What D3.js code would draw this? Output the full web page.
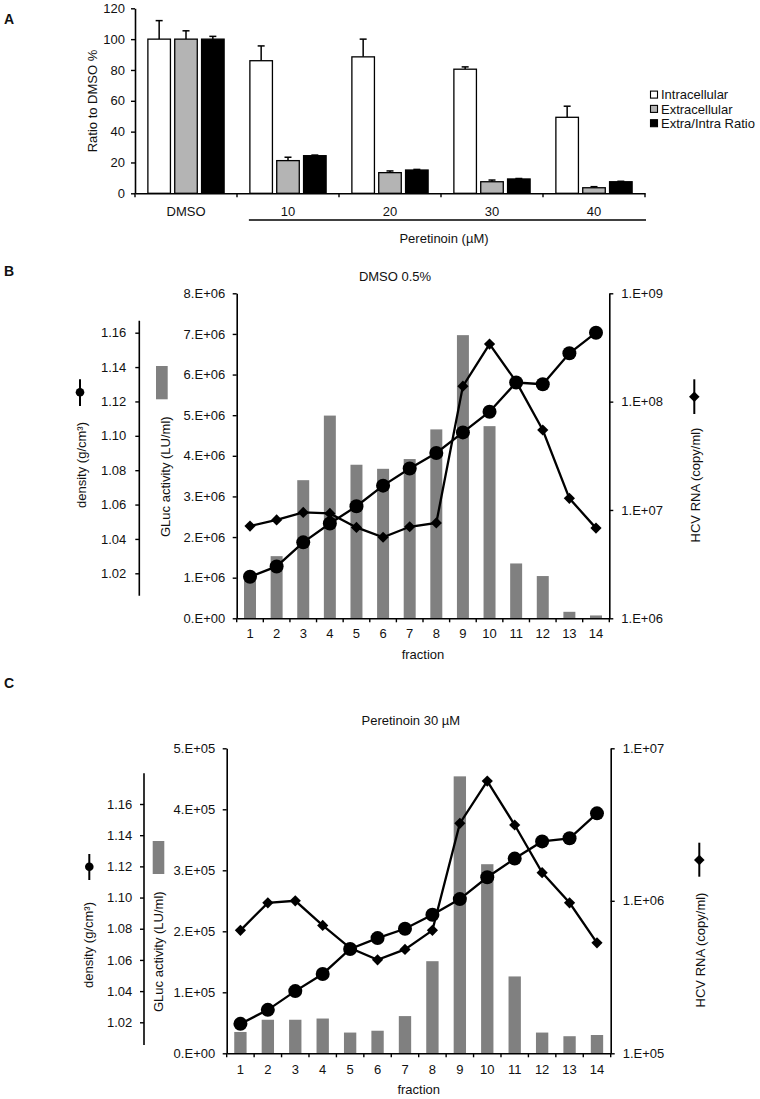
<!DOCTYPE html>
<html><head><meta charset="utf-8">
<script src="https://cdn.jsdelivr.net/npm/d3@7"></script>
<style>
body{margin:0;background:#fff}
svg{display:block}
text{font-family:"Liberation Sans",Arial,Helvetica,sans-serif;fill:#111}
</style>
</head><body>
<svg id="c" width="760" height="1099"></svg>
<script>
// ---------- DATA ----------
// Panel A
const groupsA = ["DMSO","10","20","30","40"];
const seriesA = ["Intracellular","Extracellular","Extra/Intra Ratio"];
const intraA = [100, 86, 88.5, 80.5, 49.3];
const intraErrA = [12, 9.6, 11.5, 1.5, 7.2];
const extraA = [100, 21.2, 13.4, 7.5, 3.6];
const extraErrA = [5.4, 2.2, 1.1, 1.1, 0.7];
const ratioA = [100, 24.4, 15.1, 9.3, 7.5];
const ratioErrA = [1.8, 0.4, 0.4, 0.3, 0.3];
const yTicksA = [0, 20, 40, 60, 80, 100, 120];

// Panels B / C
const fractions = [1,2,3,4,5,6,7,8,9,10,11,12,13,14];

const glucB = [1.0e6, 1.53e6, 3.40e6, 4.99e6, 3.78e6, 3.68e6, 3.92e6, 4.65e6, 6.97e6, 4.73e6, 1.35e6, 1.04e6, 0.16e6, 0.07e6];
const rnaB = [7.1e6, 8.1e6, 9.5e6, 9.3e6, 6.9e6, 5.6e6, 7.0e6, 7.6e6, 1.39e8, 3.40e8, 1.53e8, 5.47e7, 1.28e7, 6.8e6];
const densB = [1.018, 1.024, 1.038, 1.049, 1.059, 1.071, 1.081, 1.090, 1.102, 1.114, 1.131, 1.130, 1.148, 1.160];
const glucTicksB = [0,1e6,2e6,3e6,4e6,5e6,6e6,7e6,8e6];
const glucTickLabelsB = ["0.E+00","1.E+06","2.E+06","3.E+06","4.E+06","5.E+06","6.E+06","7.E+06","8.E+06"];
const rnaTicksB = [1e6,1e7,1e8,1e9];
const rnaTickLabelsB = ["1.E+06","1.E+07","1.E+08","1.E+09"];

const glucC = [3.5e4, 5.5e4, 5.5e4, 5.7e4, 3.4e4, 3.7e4, 6.1e4, 1.51e5, 4.54e5, 3.1e5, 1.26e5, 3.4e4, 2.8e4, 3.0e4];
const rnaC = [6.4e5, 9.7e5, 1.0e6, 6.9e5, 4.9e5, 4.1e5, 4.8e5, 6.4e5, 3.22e6, 6.1e6, 3.14e6, 1.53e6, 9.7e5, 5.3e5];
const densC = [1.019, 1.028, 1.040, 1.051, 1.067, 1.074, 1.080, 1.089, 1.099, 1.113, 1.125, 1.136, 1.138, 1.154];
const glucTicksC = [0,1e5,2e5,3e5,4e5,5e5];
const glucTickLabelsC = ["0.E+00","1.E+05","2.E+05","3.E+05","4.E+05","5.E+05"];
const rnaTicksC = [1e5,1e6,1e7];
const rnaTickLabelsC = ["1.E+05","1.E+06","1.E+07"];

const densTicks = [1.02,1.04,1.06,1.08,1.10,1.12,1.14,1.16];
const densTickLabels = ["1.02","1.04","1.06","1.08","1.10","1.12","1.14","1.16"];

// ---------- DRAW ----------
const svg = d3.select("#c");
const FS = 13;

function styleAxis(g){
  g.selectAll("path.domain").attr("stroke","#000").attr("stroke-width",1.6);
  g.selectAll(".tick line").attr("stroke","#000").attr("stroke-width",1.4);
  g.selectAll(".tick text").style("font-size",FS+"px").style("font-family",'"Liberation Sans",Arial,sans-serif').attr("fill","#111");
}
function vlabel(x, y, txt){
  svg.append("text").attr("transform",`translate(${x},${y}) rotate(-90)`)
    .attr("text-anchor","middle").attr("dy","0.35em").style("font-size",FS+"px").text(txt);
}
function panelLabel(x,y,t){
  svg.append("text").attr("x",x).attr("y",y).style("font-size","14px").style("font-weight","bold").text(t);
}

// ===== Panel A =====
panelLabel(4, 24, "A");
const xA = d3.scaleBand().domain(groupsA).range([135, 645]);
const xAin = d3.scaleBand().domain(seriesA).range([0, xA.bandwidth()]).paddingInner(0.16).paddingOuter(0.48);
const yA = d3.scaleLinear().domain([0,120]).range([193.3, 8.3]);
const fillA = ["#ffffff","#b4b4b4","#000000"];
const valsA = [intraA, extraA, ratioA];
const errsA = [intraErrA, extraErrA, ratioErrA];
const rowsA = [];
seriesA.forEach((s,si)=>groupsA.forEach((g,gi)=>rowsA.push({s,si,g,v:valsA[si][gi],e:errsA[si][gi]})));

const gA = svg.append("g");
gA.selectAll("line.err").data(rowsA).join("line")
  .attr("x1",d=>xA(d.g)+xAin(d.s)+xAin.bandwidth()/2).attr("x2",d=>xA(d.g)+xAin(d.s)+xAin.bandwidth()/2)
  .attr("y1",d=>yA(d.v)).attr("y2",d=>yA(d.v+d.e)).attr("stroke","#000").attr("stroke-width",1.5);
gA.selectAll("line.cap").data(rowsA).join("line")
  .attr("x1",d=>xA(d.g)+xAin(d.s)+xAin.bandwidth()/2-3.5).attr("x2",d=>xA(d.g)+xAin(d.s)+xAin.bandwidth()/2+3.5)
  .attr("y1",d=>yA(d.v+d.e)).attr("y2",d=>yA(d.v+d.e)).attr("stroke","#000").attr("stroke-width",1.5);
gA.selectAll("rect.bar").data(rowsA).join("rect")
  .attr("x",d=>xA(d.g)+xAin(d.s)).attr("width",xAin.bandwidth())
  .attr("y",d=>yA(d.v)).attr("height",d=>yA(0)-yA(d.v))
  .attr("fill",d=>fillA[d.si]).attr("stroke","#000").attr("stroke-width",1.3);

const yAxA = svg.append("g").attr("transform","translate(135,0)")
  .call(d3.axisLeft(yA).tickValues(yTicksA).tickSize(4).tickPadding(6).tickSizeOuter(0));
styleAxis(yAxA);
const xAxA = svg.append("g").attr("transform",`translate(0,${yA(0)})`)
  .call(d3.axisBottom(xA).tickSize(0).tickPadding(13).tickSizeOuter(0));
styleAxis(xAxA);
const boundsA = groupsA.map(g=>xA(g)).concat([xA.range()[1]]);
svg.append("g").selectAll("line").data(boundsA).join("line")
  .attr("x1",d=>d).attr("x2",d=>d).attr("y1",yA(0)).attr("y2",yA(0)+4).attr("stroke","#000").attr("stroke-width",1.4);
vlabel(92, 101, "Ratio to DMSO %");
svg.append("line").attr("x1",xA("10")+xAin(seriesA[0])-1).attr("x2",xA.range()[1]+1)
  .attr("y1",220).attr("y2",220).attr("stroke","#000").attr("stroke-width",1.4);
svg.append("text").attr("x",444).attr("y",242.5).attr("text-anchor","middle").style("font-size",FS+"px").text("Peretinoin (µM)");
const legA = svg.append("g");
seriesA.forEach((s,i)=>{
  const cy = 94.7 + i*14.3;
  legA.append("rect").attr("x",650.5).attr("y",cy-3.6).attr("width",7).attr("height",7)
    .attr("fill",fillA[i]).attr("stroke","#000").attr("stroke-width",1.1);
  legA.append("text").attr("x",661).attr("y",cy+4.6).style("font-size",FS+"px").text(s);
});

// ===== Panels B, C =====
function diamondPath(r){ return `M0,${-r}L${r},0L0,${r}L${-r},0Z`; }

function fractionPanel(o){
  panelLabel(4, o.labelY, o.label);
  svg.append("text").attr("x",o.titleX).attr("y",o.titleY).attr("text-anchor","middle").style("font-size",FS+"px").text(o.title);
  const x = d3.scaleBand().domain(fractions).range([o.x0, o.x1]);
  const yG = d3.scaleLinear().domain([0, o.glucMax]).range([o.yBot, o.yTop]);
  const yR = d3.scaleLog().domain(o.rnaDomain).range([o.yBot, o.yTop]);
  const yD = d3.scaleLinear().domain([1.02,1.16]).range([o.d102, o.d116]);
  const bw = x.bandwidth()*0.45;

  svg.append("g").selectAll("rect").data(fractions).join("rect")
    .attr("x",(d)=>x(d)+x.bandwidth()/2-bw/2).attr("width",bw)
    .attr("y",(d,i)=>yG(o.gluc[i])).attr("height",(d,i)=>yG(0)-yG(o.gluc[i]))
    .attr("fill","#808080");

  const gl = svg.append("g").attr("transform",`translate(${o.x0},0)`)
    .call(d3.axisLeft(yG).tickValues(o.glucTicks).tickFormat((d,i)=>o.glucLabels[i]).tickSize(4).tickPadding(7.5).tickSizeOuter(0));
  styleAxis(gl);
  const gr = svg.append("g").attr("transform",`translate(${o.x1},0)`)
    .call(d3.axisRight(yR).tickValues(o.rnaTicks).tickFormat((d,i)=>o.rnaLabels[i]).tickSize(4).tickPadding(8).tickSizeOuter(0));
  styleAxis(gr);
  const gx = svg.append("g").attr("transform",`translate(0,${o.yBot})`)
    .call(d3.axisBottom(x).tickSize(0).tickPadding(o.xPad).tickSizeOuter(0));
  styleAxis(gx);
  const bounds = fractions.map(f=>x(f)).concat([o.x1]);
  svg.append("g").selectAll("line").data(bounds).join("line")
    .attr("x1",d=>d).attr("x2",d=>d).attr("y1",o.yBot).attr("y2",o.yBot+4).attr("stroke","#000").attr("stroke-width",1.4);
  const gd = svg.append("g").attr("transform",`translate(${o.dx},0)`)
    .call(d3.axisLeft(yD).tickValues(densTicks).tickFormat((d,i)=>densTickLabels[i]).tickSize(4).tickPadding(o.dPad).tickSizeOuter(0));
  styleAxis(gd);
  gd.select("path.domain").remove();
  gd.append("line").attr("x1",0).attr("x2",0).attr("y1",o.dTop).attr("y2",o.dBot).attr("stroke","#000").attr("stroke-width",1.6);

  const cx = (d)=>x(d)+x.bandwidth()/2;
  const lineR = d3.line().x((d,i)=>cx(fractions[i])).y(d=>yR(d));
  svg.append("path").datum(o.rna).attr("d",lineR).attr("fill","none").attr("stroke","#000").attr("stroke-width",2.3);
  svg.append("g").selectAll("path").data(o.rna).join("path")
    .attr("transform",(d,i)=>`translate(${cx(fractions[i])},${yR(d)})`).attr("d",diamondPath(5.6)).attr("fill","#000");
  const lineD = d3.line().x((d,i)=>cx(fractions[i])).y(d=>yD(d));
  svg.append("path").datum(o.dens).attr("d",lineD).attr("fill","none").attr("stroke","#000").attr("stroke-width",2.3);
  svg.append("g").selectAll("circle").data(o.dens).join("circle")
    .attr("cx",(d,i)=>cx(fractions[i])).attr("cy",d=>yD(d)).attr("r",7).attr("fill","#000");

  vlabel(o.densLabX, o.densLabY, "density (g/cm³)");
  vlabel(o.glucLabX, o.glucLabY, "GLuc activity (LU/ml)");
  vlabel(o.rnaLabX, o.rnaLabY, "HCV RNA (copy/ml)");
  svg.append("text").attr("x",(o.x0+o.x1)/2).attr("y",o.fracY).attr("text-anchor","middle").style("font-size",FS+"px").text("fraction");

  svg.append("line").attr("x1",o.lc[0]).attr("x2",o.lc[0]).attr("y1",o.lc[2]).attr("y2",o.lc[3]).attr("stroke","#000").attr("stroke-width",2);
  svg.append("circle").attr("cx",o.lc[0]).attr("cy",o.lc[1]).attr("r",4.3).attr("fill","#000");
  svg.append("rect").attr("x",o.lr[0]).attr("y",o.lr[1]).attr("width",o.lr[2]-o.lr[0]).attr("height",o.lr[3]-o.lr[1]).attr("fill","#808080");
  svg.append("line").attr("x1",o.ld[0]).attr("x2",o.ld[0]).attr("y1",o.ld[2]).attr("y2",o.ld[3]).attr("stroke","#000").attr("stroke-width",2);
  svg.append("path").attr("transform",`translate(${o.ld[0]},${o.ld[1]})`).attr("d",diamondPath(5.3)).attr("fill","#000");
}

fractionPanel({
  label:"B", labelY:276, title:"DMSO 0.5%", titleX:395, titleY:281,
  x0:236.7, x1:609.3, yBot:618.3, yTop:293.3,
  glucMax:8e6, rnaDomain:[1e6,1e9],
  d102:573.3, d116:332.7, dx:139.3, dTop:320.7, dBot:595.7, dPad:9,
  gluc:glucB, rna:rnaB, dens:densB,
  glucTicks:glucTicksB, glucLabels:glucTickLabelsB, rnaTicks:rnaTicksB, rnaLabels:rnaTickLabelsB,
  xPad:10, fracY:658.5,
  densLabX:81.7, densLabY:465, glucLabX:165, glucLabY:476.7, rnaLabX:695.5, rnaLabY:485,
  lc:[80,392.3,379.3,406], lr:[156,366,167.7,399.3], ld:[694.3,396.7,379.3,414]
});

fractionPanel({
  label:"C", labelY:688, title:"Peretinoin 30 µM", titleX:410.8, titleY:724.5,
  x0:226.7, x1:610.7, yBot:1053.3, yTop:748.3,
  glucMax:5e5, rnaDomain:[1e5,1e7],
  d102:1022.3, d116:804, dx:144, dTop:773.3, dBot:1045, dPad:7.7,
  gluc:glucC, rna:rnaC, dens:densC,
  glucTicks:glucTicksC, glucLabels:glucTickLabelsC, rnaTicks:rnaTicksC, rnaLabels:rnaTickLabelsC,
  xPad:11.5, fracY:1094,
  densLabX:88.3, densLabY:945, glucLabX:158.3, glucLabY:951.7, rnaLabX:700, rnaLabY:950,
  lc:[89.3,866.7,854,880], lr:[152.7,841,164.3,874], ld:[699.3,860,842.7,876.7]
});
</script>
</body></html>
